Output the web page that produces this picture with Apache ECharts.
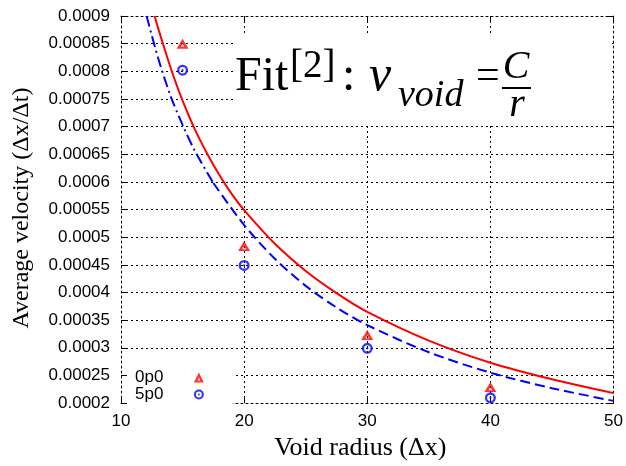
<!DOCTYPE html>
<html>
<head>
<meta charset="utf-8">
<script src="https://cdn.jsdelivr.net/npm/echarts@6/dist/echarts.min.js"></script>
<style>html,body{margin:0;padding:0;background:#fff}#c{width:626px;height:466px}</style>
</head>
<body>
<div id="c"></div>
<script>
// ---- data ----
const radius = [15, 20, 30, 40];
const vel0p0 = [0.00085, 0.000484, 0.000323, 0.000229];
const vel5p0 = [0.000802, 0.000449, 0.000299, 0.0002095];

// fit curves at chosen radii
const fitRadius0p0 = [12.72, 13.5, 14.25, 15, 16, 17, 18, 19, 20, 22.5, 25, 27.5, 30, 35, 40, 45, 50];
const fit0p0 = [0.0009, 0.000843, 0.000792, 0.000747, 0.000695, 0.000651, 0.000612, 0.000578, 0.000549, 0.000488, 0.000439, 0.000399, 0.000365, 0.000313, 0.000273, 0.000243, 0.000218];

const fitRadius5p0Upper = [12.08, 13, 14, 15, 16, 17.5];
const fit5p0Upper = [0.0009, 0.000825, 0.000757, 0.000703, 0.000656, 0.000598];
const fitRadius5p0Lower = [17.5, 20, 22.5, 25, 27.5, 30, 35, 40, 45, 50];
const fit5p0Lower = [0.000598, 0.000522, 0.000461, 0.000412, 0.000373, 0.000341, 0.000292, 0.000255, 0.000227, 0.000204];

const seriesNames = ['0p0', '5p0'];
const xTicks = [10, 20, 30, 40, 50];
const yTicks = [0.0002, 0.00025, 0.0003, 0.00035, 0.0004, 0.00045, 0.0005, 0.00055, 0.0006, 0.00065, 0.0007, 0.00075, 0.0008, 0.00085, 0.0009];

const xTitle = 'Void radius (Δx)';
const yTitle = 'Average velocity (Δx/Δt)';

// ---- chart ----
const zip = (a, b) => a.map((v, i) => [v, b[i]]);
const TRI = 'path://M0,10 L5,0 L10,10 Z M5,5.0 L3.5,8.1 L6.5,8.1 Z M5,6.6 L4.6,7.5 L5.4,7.5 Z';
const CIRC = 'path://M5,0 A5,5 0 1,1 5,10 A5,5 0 1,1 5,0 Z M5,2.1 A2.9,2.9 0 1,0 5,7.9 A2.9,2.9 0 1,0 5,2.1 Z M5,4.0 A1,1 0 1,0 5,6.0 A1,1 0 1,0 5,4.0 Z';

const dotted = { type: [2, 3], color: '#000', width: 1 };
const sans = '"Liberation Sans", Arial, sans-serif';
const serif = '"Liberation Serif", "Times New Roman", serif';
const fmt = v => String(+v.toFixed(6));

const chart = echarts.init(document.getElementById('c'), null, { renderer: 'canvas' });
chart.setOption({
  animation: false,
  backgroundColor: '#fff',
  grid: { left: 121, right: 12, top: 16, bottom: 58, containLabel: false },
  xAxis: [{
    type: 'value', min: xTicks[0], max: xTicks[xTicks.length - 1], interval: 10,
    name: xTitle, nameLocation: 'middle', nameGap: 25,
    nameTextStyle: { fontFamily: serif, fontSize: 26, color: '#000', padding: [0, 14, 0, 0] },
    axisLine: { show: true, lineStyle: dotted },
    axisTick: { show: true, inside: true, length: 6, lineStyle: { color: '#000', width: 1 } },
    axisLabel: { fontFamily: sans, fontSize: 17, color: '#000', margin: 10, formatter: fmt },
    splitLine: { show: true, lineStyle: dotted }
  }, {
    type: 'value', position: 'top', min: xTicks[0], max: xTicks[xTicks.length - 1], interval: 10,
    axisLine: { show: true, lineStyle: dotted },
    axisTick: { show: true, inside: true, length: 6, lineStyle: { color: '#000', width: 1 } },
    axisLabel: { show: false }, splitLine: { show: false }
  }],
  yAxis: [{
    type: 'value', min: yTicks[0], max: yTicks[yTicks.length - 1], interval: 0.00005,
    name: yTitle, nameLocation: 'middle', nameGap: 87, nameRotate: 90,
    nameTextStyle: { fontFamily: serif, fontSize: 24, color: '#000', padding: [0, 0, 0, 3] },
    axisLine: { show: true, lineStyle: dotted },
    axisTick: { show: true, inside: true, length: 6, lineStyle: { color: '#000', width: 1 } },
    axisLabel: { fontFamily: sans, fontSize: 17, color: '#000', margin: 11, formatter: fmt },
    splitLine: { show: true, lineStyle: dotted }
  }, {
    type: 'value', position: 'right', min: yTicks[0], max: yTicks[yTicks.length - 1], interval: 0.00005,
    axisLine: { show: true, lineStyle: dotted },
    axisTick: { show: true, inside: true, length: 6, lineStyle: { color: '#000', width: 1 } },
    axisLabel: { show: false }, splitLine: { show: false }
  }],
  legend: {
    data: seriesNames,
    orient: 'vertical', align: 'right',
    left: 127, top: 366,
    padding: [3, 29, 3, 8],
    backgroundColor: '#fff',
    itemWidth: 11, itemHeight: 10, itemGap: 0,
    textStyle: { fontFamily: sans, fontSize: 17, color: '#000', lineHeight: 15, padding: [0, 25, 0, 0] }
  },
  series: [
    { type: 'line', name: 'fit0p0', data: zip(fitRadius0p0, fit0p0), showSymbol: false, symbol: 'none',
      smooth: 0.3, lineStyle: { color: '#ff0000', width: 2 }, z: 3, silent: true },
    { type: 'line', name: 'fit5p0a', data: zip(fitRadius5p0Upper, fit5p0Upper), showSymbol: false, symbol: 'none',
      smooth: 0.3, lineStyle: { color: '#0000ff', width: 2, type: [11, 4, 2, 4] }, z: 3, silent: true },
    { type: 'line', name: 'fit5p0b', data: zip(fitRadius5p0Lower, fit5p0Lower), showSymbol: false, symbol: 'none',
      smooth: 0.3, lineStyle: { color: '#0000ff', width: 2, type: [10, 5] }, z: 3, silent: true },
    { type: 'scatter', name: seriesNames[0], data: zip(radius, vel0p0), symbol: TRI, symbolSize: [12, 10],
      itemStyle: { color: '#ff0000' }, z: 5 },
    { type: 'scatter', name: seriesNames[1], data: zip(radius, vel5p0), symbol: CIRC, symbolSize: 11,
      itemStyle: { color: '#0000ff' }, z: 5 }
  ],
  graphic: [
    { type: 'rect', z: 50, shape: { x: 233, y: 34, width: 379, height: 90 }, style: { fill: '#fff' } },
    { type: 'text', z: 60, x: 235, y: 77, style: { text: 'Fit', font: 'normal 48px ' + serif, fill: '#000', verticalAlign: 'middle' } },
    { type: 'text', z: 60, x: 290, y: 67, style: { text: '[2]', font: 'normal 39px ' + serif, fill: '#000', verticalAlign: 'middle' } },
    { type: 'text', z: 60, x: 342, y: 77, style: { text: ':', font: 'normal 48px ' + serif, fill: '#000', verticalAlign: 'middle' } },
    { type: 'text', z: 60, x: 369, y: 77, style: { text: 'v', font: 'italic 50px ' + serif, fill: '#000', verticalAlign: 'middle' } },
    { type: 'text', z: 60, x: 398, y: 96, style: { text: 'void', font: 'italic 38px ' + serif, fill: '#000', verticalAlign: 'middle' } },
    { type: 'text', z: 60, x: 476, y: 77, style: { text: '=', font: 'normal 42px ' + serif, fill: '#000', verticalAlign: 'middle' } },
    { type: 'text', z: 60, x: 516, y: 67, style: { text: 'C', font: 'italic 40px ' + serif, fill: '#000', align: 'center', verticalAlign: 'middle' } },
    { type: 'line', z: 60, shape: { x1: 502, y1: 88, x2: 531, y2: 88 }, style: { stroke: '#000', lineWidth: 2 } },
    { type: 'text', z: 60, x: 517, y: 105, style: { text: 'r', font: 'italic 40px ' + serif, fill: '#000', align: 'center', verticalAlign: 'middle' } }
  ]
});
</script>
</body>
</html>
